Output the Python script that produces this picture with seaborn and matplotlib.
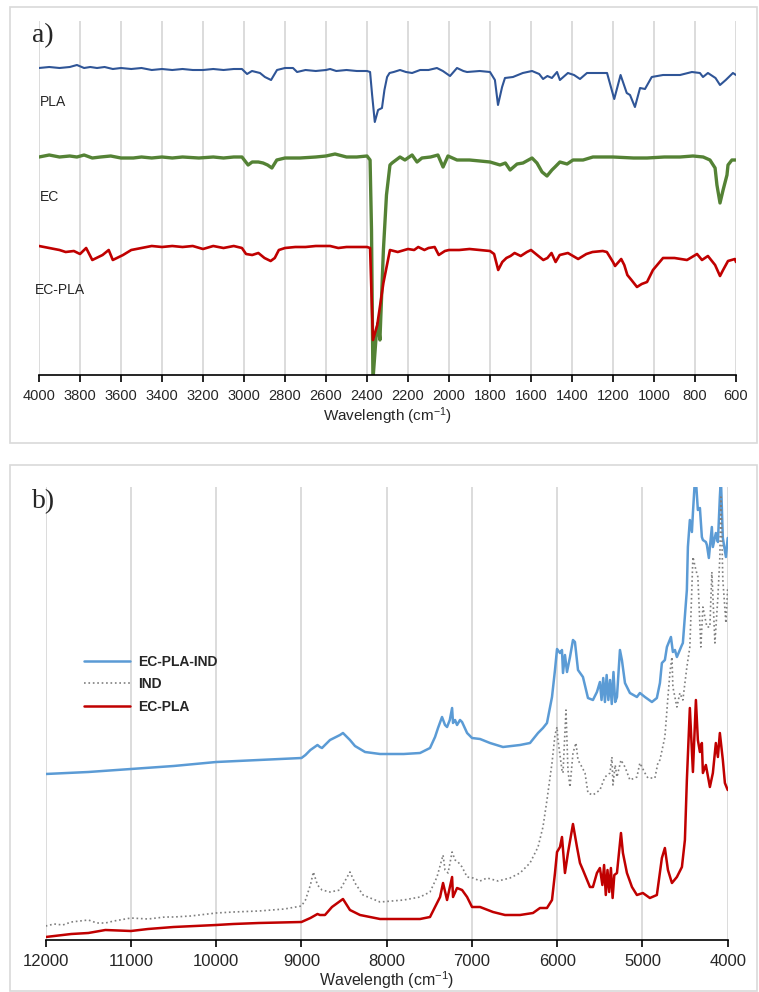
import matplotlib
matplotlib.use("Agg")
import matplotlib.pyplot as plt
import seaborn as sns
from matplotlib.patches import Rectangle


# a) mid-IR spectra, wavenumber vs transmittance (arbitrary offset units)
pla_wn = [4000, 3950, 3900, 3850, 3815, 3780, 3750, 3717, 3680, 3640, 3600, 3550, 3500, 3450,
          3400, 3350, 3300, 3250, 3200, 3150, 3100, 3050, 3010, 2985, 2961, 2922, 2898, 2868,
          2839, 2800, 2761, 2741, 2700, 2650, 2600, 2580, 2550, 2500, 2450, 2400, 2385, 2375,
          2362, 2346, 2327, 2315, 2302, 2290, 2270, 2239, 2210, 2180, 2141, 2100, 2059, 2030,
          1995, 1961, 1930, 1912, 1850, 1800, 1776, 1761, 1741, 1727, 1688, 1640, 1595, 1560,
          1541, 1520, 1498, 1473, 1459, 1420, 1390, 1361, 1327, 1290, 1249, 1229, 1194, 1163,
          1133, 1117, 1093, 1068, 1044, 1011, 956, 873, 815, 776, 761, 737, 700, 678, 650, 615, 600]
pla_t = [307, 308, 307, 308, 310, 307, 308, 307, 308, 306, 307, 306, 307, 305,
         306, 305, 306, 305, 305, 306, 305, 306, 306, 301, 304, 302, 298, 295,
         305, 307, 307, 303, 305, 304, 305, 306, 304, 305, 304, 304, 303, 280,
         253, 265, 267, 285, 298, 302, 303, 305, 303, 302, 305, 305, 307, 304,
         299, 307, 304, 303, 304, 303, 295, 270, 288, 297, 298, 302, 304, 301,
         296, 299, 297, 303, 295, 302, 300, 296, 302, 302, 302, 302, 276, 300,
         282, 280, 268, 287, 286, 298, 300, 300, 303, 302, 298, 302, 297, 290, 295, 302, 300]

ec_wn = [4000, 3950, 3900, 3850, 3815, 3780, 3740, 3700, 3650, 3600, 3540, 3500, 3450, 3400,
         3350, 3300, 3220, 3150, 3100, 3050, 3010, 2980, 2960, 2930, 2907, 2885, 2864, 2840,
         2800, 2727, 2650, 2600, 2556, 2500, 2450, 2400, 2385, 2378, 2371, 2355, 2346, 2337,
         2320, 2305, 2288, 2278, 2239, 2215, 2180, 2156, 2132, 2090, 2054, 2029, 2005, 1961,
         1900, 1849, 1800, 1751, 1725, 1702, 1668, 1639, 1595, 1571, 1546, 1522, 1498, 1483,
         1459, 1424, 1395, 1346, 1298, 1250, 1200, 1100, 1034, 950, 873, 810, 760, 727, 702,
         693, 678, 663, 644, 639, 620, 600]
ec_t = [218, 220, 218, 219, 218, 220, 217, 218, 219, 217, 217, 218, 217, 218,
        217, 218, 217, 218, 217, 218, 218, 210, 213, 213, 212, 210, 207, 215,
        217, 217, 218, 219, 221, 218, 218, 219, 215, 145, -5, 40, 52, 35,
        125, 180, 210, 212, 218, 215, 220, 213, 217, 218, 220, 208, 219, 215,
        215, 214, 213, 210, 212, 205, 211, 212, 217, 212, 203, 199, 205, 208,
        213, 211, 215, 215, 218, 218, 218, 217, 217, 218, 218, 219, 218, 215, 207,
        190, 172, 185, 200, 210, 215, 215]

ecpla_wn = [4000, 3950, 3900, 3870, 3830, 3800, 3770, 3740, 3720, 3690, 3660, 3640, 3620, 3590,
            3550, 3500, 3450, 3400, 3350, 3300, 3250, 3200, 3150, 3100, 3050, 3010, 2990, 2960,
            2930, 2900, 2870, 2850, 2830, 2800, 2750, 2700, 2650, 2580, 2540, 2500, 2450, 2400,
            2385, 2371, 2350, 2320, 2288, 2250, 2200, 2170, 2150, 2120, 2100, 2070, 2050, 2020,
            2000, 1950, 1900, 1850, 1800, 1780, 1760, 1740, 1720, 1700, 1680, 1650, 1620, 1600,
            1570, 1540, 1520, 1500, 1480, 1460, 1420, 1370, 1330, 1300, 1250, 1230, 1200, 1190,
            1160, 1145, 1130, 1110, 1083, 1060, 1034, 1005, 956, 900, 839, 790, 766, 737, 702,
            678, 663, 639, 605, 600]
ecpla_t = [129, 127, 125, 123, 124, 121, 127, 115, 117, 120, 125, 115, 117, 120,
           125, 127, 129, 128, 129, 128, 129, 126, 129, 127, 129, 127, 121, 120,
           122, 117, 114, 117, 125, 127, 128, 128, 129, 129, 127, 128, 128, 128,
           127, 35, 50, 92, 125, 123, 126, 125, 128, 125, 127, 128, 120, 124,
           125, 125, 126, 125, 124, 121, 105, 113, 117, 119, 122, 119, 123, 125,
           120, 115, 117, 122, 113, 120, 122, 116, 121, 123, 124, 123, 113, 109,
           116, 110, 100, 95, 88, 91, 93, 105, 117, 117, 115, 121, 115, 119, 110,
           99, 105, 114, 116, 113]

# b) NIR spectra, wavenumber vs absorbance (arbitrary units)
ind_pla_ind_wn = [12000, 11500, 11000, 10500, 10000, 9500, 9000, 8953, 8895, 8812, 8783, 8759,
                  8724, 8665, 8548, 8513, 8431, 8372, 8254, 8078, 7800, 7609, 7492, 7433, 7398,
                  7351, 7316, 7292, 7260, 7233, 7222, 7198, 7175, 7140, 7116, 7057, 6999, 6905,
                  6788, 6636, 6436, 6319, 6225, 6167, 6120, 6061, 6026, 6002, 5967, 5944, 5932,
                  5909, 5885, 5850, 5815, 5792, 5756, 5698, 5639, 5581, 5534, 5499, 5480, 5460,
                  5440, 5420, 5400, 5380, 5360, 5340, 5320, 5299, 5264, 5241, 5205, 5147, 5065,
                  5030, 4971, 4889, 4831, 4795, 4772, 4737, 4713, 4666, 4643, 4619, 4596, 4537,
                  4526, 4479, 4467, 4444, 4420, 4408, 4385, 4373, 4350, 4326, 4303, 4291, 4256,
                  4244, 4221, 4186, 4174, 4139, 4115, 4092, 4080, 4057, 4021, 4000]
ind_pla_ind_a = [166, 168, 171, 174, 178, 180, 182, 185, 190, 195, 193, 192,
                 195, 200, 205, 207, 200, 194, 188, 186, 186, 187, 192, 203, 212,
                 223, 215, 213, 220, 232, 217, 220, 215, 220, 218, 207, 202, 201,
                 197, 193, 195, 197, 207, 212, 217, 243, 270, 291, 287, 290, 267,
                 285, 268, 283, 300, 298, 270, 263, 242, 240, 248, 258, 240, 262,
                 238, 265, 240, 260, 236, 268, 238, 243, 290, 280, 257, 247, 243,
                 247, 243, 238, 242, 257, 277, 280, 293, 303, 288, 290, 283, 295,
                 297, 350, 393, 420, 408, 427, 460, 460, 430, 432, 403, 400, 398,
                 395, 382, 413, 393, 407, 398, 443, 462, 402, 383, 402]

ind_wn = [12000, 11900, 11800, 11700, 11600, 11500, 11400, 11300, 11200, 11000, 10800, 10600,
          10500, 10300, 10000, 9800, 9500, 9200, 9000, 8953, 8895, 8860, 8812, 8759, 8665, 8548,
          8431, 8372, 8278, 8078, 7800, 7609, 7492, 7410, 7339, 7316, 7280, 7233, 7198, 7163,
          7116, 7057, 6987, 6905, 6823, 6694, 6554, 6436, 6319, 6225, 6167, 6120, 6061, 6026,
          6002, 5991, 5944, 5932, 5897, 5874, 5850, 5815, 5780, 5756, 5710, 5674, 5639, 5581,
          5499, 5440, 5381, 5358, 5346, 5320, 5299, 5252, 5205, 5147, 5065, 5030, 4971, 4936,
          4854, 4819, 4795, 4737, 4701, 4678, 4654, 4643, 4596, 4561, 4526, 4479, 4444, 4408,
          4373, 4350, 4315, 4291, 4244, 4209, 4186, 4150, 4115, 4092, 4080, 4057, 4021, 4000]
ind_a = [14, 16, 15, 18, 19, 20, 17, 17, 19, 22, 21, 23,
         23, 24, 27, 28, 29, 31, 34, 40, 55, 68, 55, 50, 48, 50,
         68, 57, 45, 38, 40, 43, 48, 63, 85, 70, 67, 88, 80, 78,
         73, 63, 62, 59, 62, 59, 62, 67, 77, 93, 113, 140, 177, 205,
         213, 200, 170, 167, 230, 170, 153, 187, 197, 180, 173, 167, 147, 145,
         150, 163, 167, 183, 155, 175, 163, 180, 173, 160, 163, 177, 167, 162,
         162, 177, 180, 203, 243, 267, 283, 253, 233, 247, 240, 273, 293, 383,
         370, 363, 293, 333, 313, 313, 368, 297, 343, 383, 443, 360, 317, 353]

nir_ecpla_wn = [12000, 11900, 11800, 11700, 11500, 11300, 11000, 10800, 10500, 10000, 9800, 9500,
                9000, 8895, 8812, 8783, 8724, 8642, 8513, 8431, 8313, 8078, 7800, 7609, 7492,
                7433, 7374, 7339, 7292, 7233, 7222, 7175, 7116, 7057, 6999, 6905, 6753, 6612,
                6436, 6284, 6202, 6120, 6061, 6026, 6002, 5967, 5944, 5909, 5874, 5815, 5768,
                5733, 5698, 5616, 5581, 5534, 5499, 5470, 5450, 5430, 5410, 5390, 5370, 5350,
                5330, 5299, 5252, 5229, 5182, 5123, 5065, 4995, 4913, 4831, 4772, 4737, 4701,
                4654, 4596, 4537, 4502, 4479, 4444, 4408, 4373, 4350, 4326, 4303, 4291, 4256,
                4209, 4174, 4139, 4115, 4092, 4057, 4033, 4000]
nir_ecpla_a = [3, 4, 5, 6, 7, 10, 9, 11, 13, 15, 16, 17,
               18, 22, 26, 25, 25, 33, 41, 30, 25, 21, 21, 21, 23,
               33, 43, 57, 40, 63, 43, 52, 50, 43, 33, 33, 28, 25,
               25, 27, 32, 32, 40, 67, 88, 93, 103, 67, 87, 116, 93,
               77, 70, 53, 53, 67, 72, 55, 75, 45, 70, 48, 72, 42,
               65, 67, 107, 87, 67, 53, 45, 47, 42, 45, 82, 92, 70,
               57, 63, 73, 100, 160, 232, 168, 240, 200, 188, 197, 167, 175,
               153, 167, 197, 183, 207, 180, 157, 150]


sns.set_style("white")
plt.rcParams['font.family'] = ['Liberation Sans', 'DejaVu Sans']
plt.rcParams['mathtext.fontset'] = 'custom'
plt.rcParams['mathtext.rm'] = 'Liberation Sans'
plt.rcParams['mathtext.it'] = 'Liberation Sans:italic'

W, H = 759, 992
fig = plt.figure(figsize=(W / 100, H / 100), dpi=100)

# panel frames
for y0, y1 in [(7, 443), (465, 991)]:
    fig.patches.append(Rectangle((10 / W, 1 - y1 / H), 747 / W, (y1 - y0) / H,
                                 transform=fig.transFigure, fill=False,
                                 edgecolor='#D9D9D9', lw=1.2))

grid_kw = dict(color='#D9D9D9', lw=1.3)


def style_axis(ax, labelsize, pad):
    ax.set_yticks([])
    for s in ['left', 'right', 'top']:
        ax.spines[s].set_visible(False)
    ax.spines['bottom'].set_color('black')
    ax.spines['bottom'].set_linewidth(1.2)
    ax.grid(axis='x', **grid_kw)
    ax.grid(axis='y', visible=False)
    ax.set_axisbelow(True)
    ax.tick_params(axis='x', direction='out', length=5, width=1.2, color='black',
                   labelsize=labelsize, pad=pad, bottom=True)
    ax.set_ylabel('')


### a) ###
ax1 = fig.add_axes([39 / W, 1 - 375 / H, 697 / W, 354 / H])
sns.lineplot(x=pla_wn, y=pla_t, color='#2F5597', lw=1.5, estimator=None, sort=False, ax=ax1)
sns.lineplot(x=ec_wn, y=ec_t, color='#548235', lw=2.4, estimator=None, sort=False, ax=ax1)
sns.lineplot(x=ecpla_wn, y=ecpla_t, color='#C00000', lw=1.9, estimator=None, sort=False, ax=ax1)
ax1.set_xlim(4000, 600)
ax1.set_ylim(0, 354)
ax1.set_xticks(range(4000, 599, -200))
style_axis(ax1, 10.5, 5)
ax1.set_xlabel('Wavelength (cm$^{-1}$)', fontsize=11, labelpad=2)

ax1.text(3995, 273, 'PLA', fontsize=10, va='center', ha='left')
ax1.text(3995, 178, 'EC', fontsize=10, va='center', ha='left')
ax1.text(4020, 85, 'EC-PLA', fontsize=10, va='center', ha='left')
fig.text(32 / W, 1 - 36 / H, 'a)', family='Liberation Serif', fontsize=20, va='center', ha='left')

### b) ###
ax2 = fig.add_axes([45.7 / W, 1 - 940 / H, 682 / W, 453 / H])
sns.lineplot(x=ind_pla_ind_wn, y=ind_pla_ind_a, color='#5B9BD5', lw=1.8, estimator=None,
             sort=False, ax=ax2, label='EC-PLA-IND')
sns.lineplot(x=ind_wn, y=ind_a, color='#7F7F7F', lw=1.2, ls=':', estimator=None,
             sort=False, ax=ax2, label='IND')
sns.lineplot(x=nir_ecpla_wn, y=nir_ecpla_a, color='#C00000', lw=1.8, estimator=None,
             sort=False, ax=ax2, label='EC-PLA')
ax2.set_xlim(12000, 4000)
ax2.set_ylim(0, 453)
ax2.set_xticks(range(12000, 3999, -1000))
style_axis(ax2, 12, 5)
ax2.set_xlabel('Wavelength (cm$^{-1}$)', fontsize=11.5, labelpad=0.5)

ax2.legend(loc='upper left', bbox_to_anchor=(84 / W, 1 - 655 / H), bbox_transform=fig.transFigure,
           frameon=False, borderpad=0, borderaxespad=0, handlelength=3.3, handletextpad=0.6,
           labelspacing=0.6, prop={'weight': 'bold', 'size': 10})
fig.text(32 / W, 1 - 502 / H, 'b)', family='Liberation Serif', fontsize=20, va='center', ha='left')

plt.savefig('out.png', dpi=100)
